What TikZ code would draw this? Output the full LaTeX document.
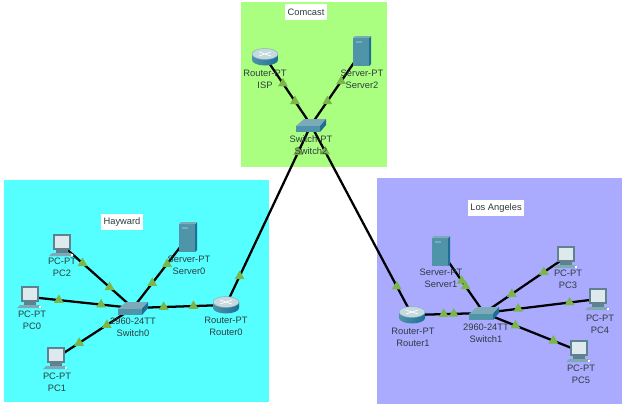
\documentclass[tikz,border=0pt]{standalone}
\usepackage{fontspec}
\setmainfont{Liberation Sans}
\usetikzlibrary{shapes.geometric}
\definecolor{zonegreen}{RGB}{170,255,128}
\definecolor{zonecyan}{RGB}{85,255,255}
\definecolor{zonepurple}{RGB}{170,170,255}
\definecolor{lightgreen}{RGB}{122,182,72}
\definecolor{caseblue}{RGB}{79,148,168}
\definecolor{sideblue}{RGB}{30,110,150}
\definecolor{topblue}{RGB}{125,170,185}
\definecolor{pcgrey}{RGB}{96,130,142}
\definecolor{screenblue}{RGB}{222,233,238}
\definecolor{labeltext}{RGB}{45,60,62}
\tikzset{
    link/.style={line width=1.7pt,black},
    light/.style={regular polygon,regular polygon sides=3,fill=lightgreen,inner sep=0pt,minimum size=8.5pt},
    devlabel/.style={font=\fontsize{7}{9}\selectfont,text=labeltext,align=center,inner sep=0pt},
    zonelabel/.style={font=\fontsize{7}{9}\selectfont,text=labeltext,fill=white,inner sep=2pt,minimum height=12pt},
    servericon/.pic={
        \fill[caseblue] (-9,-13) rectangle (7,15);
        \fill[sideblue] (7,-13) -- (9,-15) -- (9,13) -- (7,15) -- cycle;
        \fill[topblue] (-9,-13) -- (-7,-15) -- (9,-15) -- (7,-13) -- cycle;
        \fill[topblue] (-6,-10) rectangle (0,-8);
    },
    pcicon/.pic={
        \fill[pcgrey] (-9,-11) rectangle (9,5);
        \fill[screenblue] (-7,-9) rectangle (7,3);
        \fill[pcgrey] (-6,5) rectangle (6,8);
        \fill[topblue] (-10,8) -- (9,8) -- (12,11) -- (-13,11) -- cycle;
        \fill[white] (9,9) rectangle (11,10.5);
    },
    routericon/.pic={
        \path[left color=caseblue,middle color=white,right color=sideblue] (-13,-3) -- (-13,3) arc[start angle=180,end angle=0,x radius=13,y radius=5.5] -- (13,-3) -- cycle;
        \fill[topblue!45,draw=topblue,line width=0.3pt] (0,-3) ellipse[x radius=13,y radius=5.5];
        \draw[white,line width=0.5pt] (-6,-5) -- (6,-1) (-6,-1) -- (6,-5);
    },
    switchicon/.pic={
        \fill[topblue] (-7,-6) -- (15,-6) -- (9,1) -- (-15,1) -- cycle;
        \fill[caseblue] (-15,1) rectangle (9,7);
        \fill[sideblue] (9,1) -- (15,-6) -- (15,0) -- (9,7) -- cycle;
    }
}
\begin{document}
\begin{tikzpicture}[x=0.75pt,y=-0.75pt]
    \path[use as bounding box,fill=white] (0,0) rectangle (624,407);

    % Zones
    \fill[zonegreen] (241,2) rectangle (387,167);
    \fill[zonecyan] (4,180) rectangle (269,402);
    \fill[zonepurple] (377,178) rectangle (622,404);
    \node[zonelabel] (comcast) at (306,12) {Comcast};
    \node[zonelabel] (hayward) at (122,222) {Hayward};
    \node[zonelabel] (losangeles) at (496,208) {Los Angeles};

    % Devices
    \coordinate (ISP) at (265,57);
    \coordinate (Server2) at (362,51);
    \coordinate (Switch2) at (311,125);
    \coordinate (PC2) at (62,245);
    \coordinate (PC0) at (30,297);
    \coordinate (PC1) at (56,358);
    \coordinate (Server0) at (188,237);
    \coordinate (Switch0) at (133,308);
    \coordinate (Router0) at (226,305);
    \coordinate (Server1) at (441,251);
    \coordinate (Switch1) at (484,313);
    \coordinate (Router1) at (412,315);
    \coordinate (PC3) at (566,257);
    \coordinate (PC4) at (598,299);
    \coordinate (PC5) at (579,351);

    % Links
    \foreach \a/\b/\p/\q in {ISP/Switch2/.39/.65,Server2/Switch2/.41/.68,
        Switch2/Router0/.15/.84,Switch2/Router1/.14/.85,
        PC2/Switch0/.29/.67,PC0/Switch0/.28/.69,PC1/Switch0/.30/.66,
        Server0/Switch0/.38/.65,Router0/Switch0/.35/.67,
        Server1/Switch1/.48/.57,PC3/Switch1/.27/.66,PC4/Switch1/.25/.70,
        PC5/Switch1/.27/.67,Router1/Switch1/.44/.58}
        \draw[link] (\a) -- node[light,pos=\p] (\a\b p) {} node[light,pos=\q] (\a\b q) {} (\b);

    % Icons
    \foreach \n in {ISP,Router0,Router1} \pic at (\n) {routericon};
    \foreach \n in {Server0,Server1,Server2} \pic at (\n) {servericon};
    \foreach \n in {Switch0,Switch1,Switch2} \pic at (\n) {switchicon};
    \foreach \n in {PC0,PC1,PC2,PC3,PC4,PC5} \pic at (\n) {pcicon};

    % Labels
    \node[devlabel] (ISPtext) at (265,79) {Router-PT\\ISP};
    \node[devlabel] (Server2text) at (362,79) {Server-PT\\Server2};
    \node[devlabel] (Switch2text) at (311,145) {Switch-PT\\Switch2};
    \node[devlabel] (PC2text) at (62,267) {PC-PT\\PC2};
    \node[devlabel] (PC0text) at (32,320) {PC-PT\\PC0};
    \node[devlabel] (PC1text) at (57,382) {PC-PT\\PC1};
    \node[devlabel] (Server0text) at (189,265) {Server-PT\\Server0};
    \node[devlabel] (Switch0text) at (133,327) {2960-24TT\\Switch0};
    \node[devlabel] (Router0text) at (226,326) {Router-PT\\Router0};
    \node[devlabel] (Server1text) at (441,278) {Server-PT\\Server1};
    \node[devlabel] (Switch1text) at (486,333) {2960-24TT\\Switch1};
    \node[devlabel] (Router1text) at (413,337) {Router-PT\\Router1};
    \node[devlabel] (PC3text) at (568,279) {PC-PT\\PC3};
    \node[devlabel] (PC4text) at (600,324) {PC-PT\\PC4};
    \node[devlabel] (PC5text) at (581,374) {PC-PT\\PC5};
\end{tikzpicture}
\end{document}
